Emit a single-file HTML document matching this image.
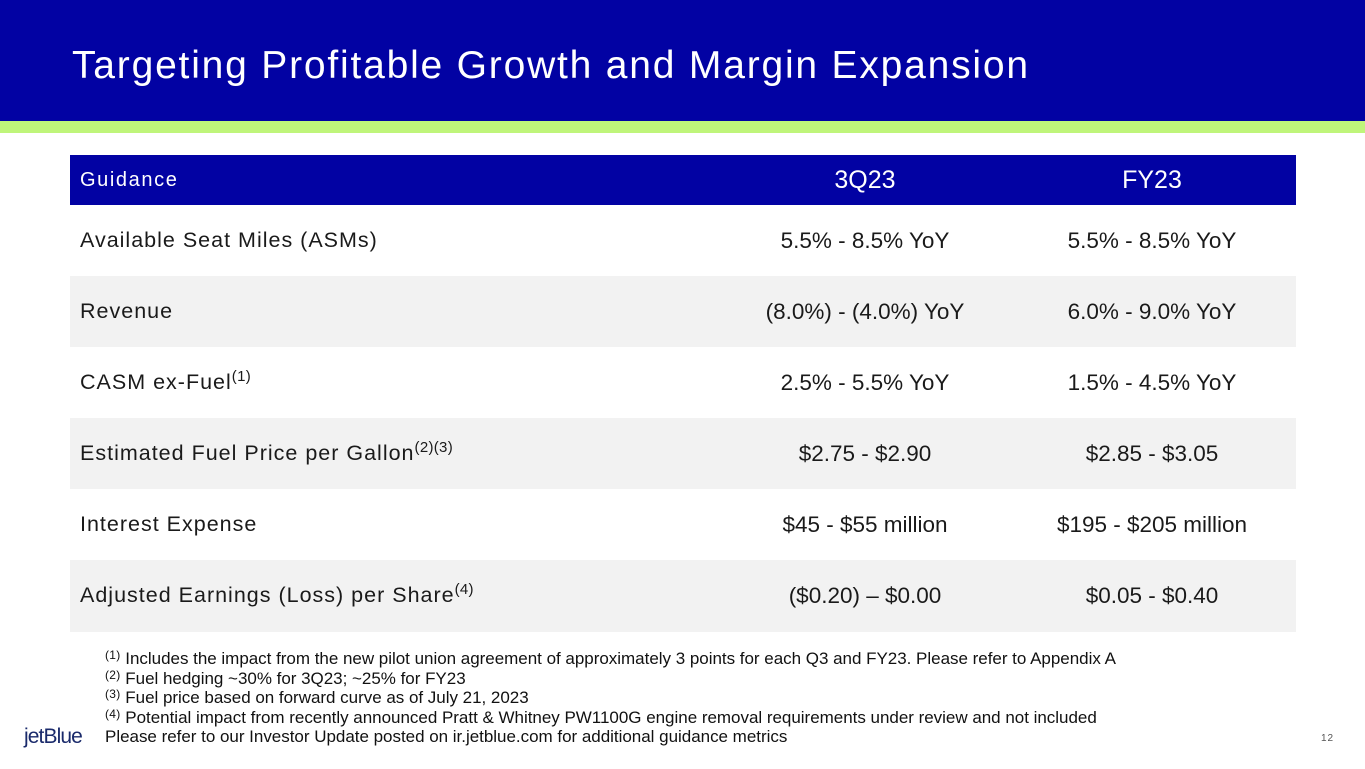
<!DOCTYPE html>
<html><head><meta charset="utf-8"><style>
*{margin:0;padding:0;box-sizing:border-box}
body{width:1365px;height:769px;position:relative;background:#fff;font-family:"Liberation Sans",sans-serif;overflow:hidden}
.hdr{position:absolute;left:0;top:0;width:1365px;height:121px;background:#0202a3}
.title{position:absolute;left:72px;top:44px;font-size:39px;color:#fff;letter-spacing:1.8px;white-space:nowrap}
.grn{position:absolute;left:0;top:121px;width:1365px;height:12px;background:#bff57a}
.row{position:absolute;left:70px;width:1226px;height:71px}
.th{top:155px;height:50px;background:#0202a3;color:#fff}
.c0{position:absolute;left:10px;top:0;line-height:71px;font-size:21.5px;color:#1a1a1a;letter-spacing:1px;white-space:nowrap}
.c1,.c2{position:absolute;top:0;line-height:71px;font-size:22.5px;color:#1a1a1a;text-align:center;width:340px;white-space:nowrap}
.c1{left:625px}.c2{left:912px}
.th .c0,.th .c1,.th .c2{line-height:50px;color:#fff}
.th .c0{font-size:20px;letter-spacing:1.6px}
.th .c1,.th .c2{font-size:25px}
sup{font-size:15px;vertical-align:8px;line-height:0;letter-spacing:0.3px}
.g{background:#f2f2f2}
.notes{position:absolute;left:105px;top:649px;font-size:17px;line-height:19.6px;color:#111;white-space:nowrap;letter-spacing:-0.02px}
.notes sup{font-size:12px;vertical-align:5px}
.logo{position:absolute;left:24px;top:725px;font-size:21px;color:#1a2a6b;letter-spacing:-0.9px}
.pg{position:absolute;left:1321px;top:733px;font-size:10px;color:#555;letter-spacing:1px}
</style></head><body>
<div class="hdr"></div>
<div class="title">Targeting Profitable Growth and Margin Expansion</div>
<div class="grn"></div>
<div class="row th"><div class="c0">Guidance</div><div class="c1">3Q23</div><div class="c2">FY23</div></div>
<div class="row" style="top:205px"><div class="c0">Available Seat Miles (ASMs)</div><div class="c1">5.5% - 8.5% YoY</div><div class="c2">5.5% - 8.5% YoY</div></div>
<div class="row g" style="top:276px"><div class="c0">Revenue</div><div class="c1">(8.0%) - (4.0%) YoY</div><div class="c2">6.0% - 9.0% YoY</div></div>
<div class="row" style="top:347px"><div class="c0">CASM ex-Fuel<sup>(1)</sup></div><div class="c1">2.5% - 5.5% YoY</div><div class="c2">1.5% - 4.5% YoY</div></div>
<div class="row g" style="top:418px"><div class="c0">Estimated Fuel Price per Gallon<sup>(2)(3)</sup></div><div class="c1">$2.75 - $2.90</div><div class="c2">$2.85 - $3.05</div></div>
<div class="row" style="top:489px"><div class="c0">Interest Expense</div><div class="c1">$45 - $55 million</div><div class="c2">$195 - $205 million</div></div>
<div class="row g" style="top:560px;height:72px"><div class="c0">Adjusted Earnings (Loss) per Share<sup>(4)</sup></div><div class="c1">($0.20) – $0.00</div><div class="c2">$0.05 - $0.40</div></div>
<div class="notes">
<div><sup>(1)</sup> Includes the impact from the new pilot union agreement of approximately 3 points for each Q3 and FY23. Please refer to Appendix A</div>
<div><sup>(2)</sup> Fuel hedging ~30% for 3Q23; ~25% for FY23</div>
<div><sup>(3)</sup> Fuel price based on forward curve as of July 21, 2023</div>
<div><sup>(4)</sup> Potential impact from recently announced Pratt &amp; Whitney PW1100G engine removal requirements under review and not included</div>
<div>Please refer to our Investor Update posted on ir.jetblue.com for additional guidance metrics</div>
</div>
<div class="logo">jetBlue</div>
<div class="pg">12</div>
</body></html>
